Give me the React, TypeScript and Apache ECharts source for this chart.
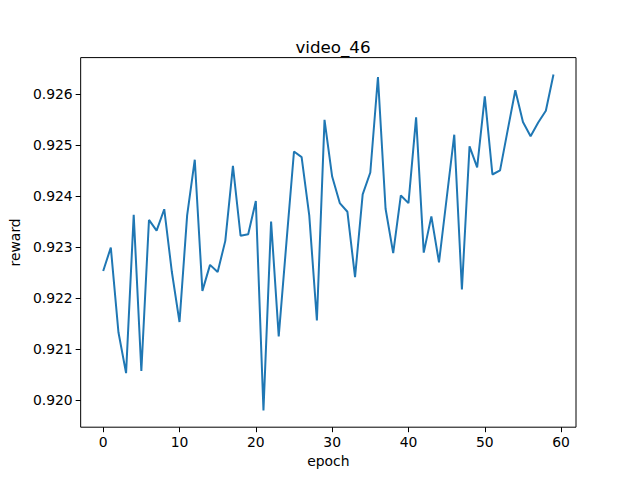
import React, { useEffect, useRef } from "react";
import * as echarts from "echarts";

const epochs: number[] = Array.from({ length: 60 }, (_, i) => i);
const rewards: number[] = [
  0.92253, 0.92299, 0.92133, 0.92053, 0.92363, 0.92057, 0.92353, 0.92332, 0.92374, 0.92251,
  0.92153, 0.92362, 0.92471, 0.92214, 0.92265, 0.92251, 0.92312, 0.92459, 0.92322, 0.92325,
  0.9239, 0.9198, 0.9235, 0.92125, 0.92307, 0.92487, 0.92476, 0.92362, 0.92156, 0.92549,
  0.92438, 0.92386, 0.92369, 0.92241, 0.92403, 0.92446, 0.92633, 0.92375, 0.92288, 0.92401,
  0.92386, 0.92554, 0.92289, 0.9236, 0.9227, 0.92395, 0.9252, 0.92217, 0.92497, 0.92456,
  0.92595, 0.92442, 0.9245, 0.92529, 0.92607, 0.92545, 0.92517, 0.92544, 0.92567, 0.92638,
];
const xTicks: number[] = [0, 10, 20, 30, 40, 50, 60];
const yTicks: number[] = [0.92, 0.921, 0.922, 0.923, 0.924, 0.925, 0.926];

export default function App() {
  const ref = useRef<HTMLDivElement>(null);
  useEffect(() => {
    if (!ref.current) return;
    const chart = echarts.init(ref.current, undefined, { renderer: "svg" });
    const font = "DejaVu Sans";
    chart.setOption({
      animation: false,
      backgroundColor: "#ffffff",
      title: {
        text: "video_46",
        left: 328,
        textAlign: "center",
        top: 33,
        textStyle: { fontFamily: font, fontSize: 16.7, fontWeight: "normal", color: "#000" },
      },
      grid: {
        left: 80,
        right: 64,
        top: 57.6,
        bottom: 52.8,
        show: true,
        borderColor: "#000",
        borderWidth: 1,
        backgroundColor: "transparent",
      },
      xAxis: {
        type: "value",
        min: -2.95,
        max: 61.95,
        name: "epoch",
        nameLocation: "middle",
        nameGap: 27,
        nameTextStyle: { fontFamily: font, fontSize: 13.9, color: "#000" },
        axisLine: { show: false, onZero: false },
        splitLine: { show: false },
        axisTick: { show: true, length: 5, lineStyle: { color: "#000" }, customValues: xTicks },
        axisLabel: {
          fontFamily: font,
          fontSize: 13.9,
          color: "#000",
          margin: 8,
          customValues: xTicks,
          formatter: (v: number) => String(v),
        },
      },
      yAxis: {
        type: "value",
        min: 0.91947,
        max: 0.92671,
        name: "reward",
        nameLocation: "middle",
        nameRotate: 90,
        nameGap: 55,
        nameTextStyle: { fontFamily: font, fontSize: 13.9, color: "#000" },
        axisLine: { show: false, onZero: false },
        splitLine: { show: false },
        axisTick: { show: true, length: 5, lineStyle: { color: "#000" }, customValues: yTicks },
        axisLabel: {
          fontFamily: font,
          fontSize: 13.9,
          color: "#000",
          margin: 8,
          customValues: yTicks,
          formatter: (v: number) => v.toFixed(3),
        },
      },
      series: [
        {
          type: "line",
          data: epochs.map((e, i) => [e, rewards[i]]),
          showSymbol: false,
          symbol: "none",
          lineStyle: { color: "#1f77b4", width: 2 },
        },
      ],
    });
    return () => chart.dispose();
  }, []);
  return <div ref={ref} style={{ width: 640, height: 480, position: "absolute", left: 0, top: 0 }} />;
}
